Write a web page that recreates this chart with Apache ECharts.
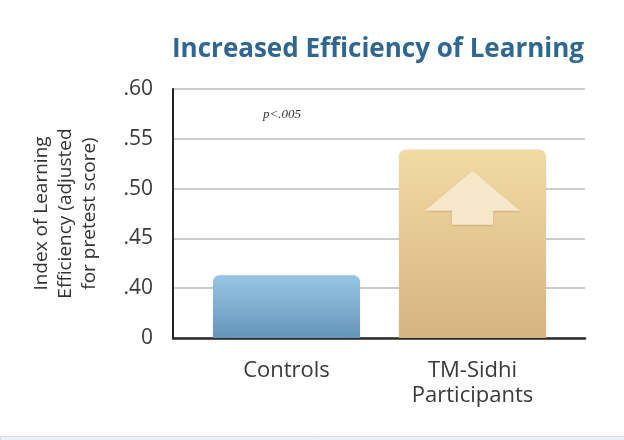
<!DOCTYPE html>
<html>
<head>
<meta charset="utf-8">
<script src="https://cdn.jsdelivr.net/npm/echarts@6/dist/echarts.min.js"></script>
<style>
html,body{margin:0;padding:0;background:#fff;}
#chart{width:624px;height:440px;}
</style>
</head>
<body>
<div id="chart"></div>
<script>
// ---- data ----
var titleText = 'Increased Efficiency of Learning';
var categories = ['Controls', 'TM-Sidhi\nParticipants'];
var values = [0.413, 0.539];
var yMin = 0.35, yMax = 0.60, yStep = 0.05;   // broken axis: bottom tick shown as "0"
var yTickLabels = ['0', '.40', '.45', '.50', '.55', '.60'];
var yAxisName = 'Index of Learning\nEfficiency (adjusted\nfor pretest score)';
var noteText = 'p<.005';

var chart = echarts.init(document.getElementById('chart'));

var barColors = [
  new echarts.graphic.LinearGradient(0, 0, 0, 1, [
    {offset: 0, color: '#97c5e3'}, {offset: 1, color: '#6695bb'}]),
  new echarts.graphic.LinearGradient(0, 0, 0, 1, [
    {offset: 0, color: '#f2daa3'}, {offset: 1, color: '#d6b482'}])
];

var arrowPath = 'path://M47.5,0 L95,40 L68,40 L68,54 L27,54 L27,40 L0,40 Z';

chart.setOption({
  animation: false,
  backgroundColor: '#ffffff',
  title: {
    text: titleText,
    left: 373, top: 32, textAlign: 'center',
    textStyle: {fontFamily: 'Open Sans', fontWeight: 'bold', fontSize: 26, color: '#2f6793'}
  },
  grid: [
    {left: 173, right: 39, top: 89, bottom: 102},
    {left: 193.5, right: 58.5, top: 89, bottom: 102}
  ],
  xAxis: [
    {type: 'category', gridIndex: 0, data: categories,
     axisLine: {show: true, lineStyle: {color: '#2b2b2b', width: 2.5}},
     axisTick: {show: false}, axisLabel: {show: false}, splitLine: {show: false}},
    {type: 'category', gridIndex: 1, data: categories,
     axisLine: {show: false}, axisTick: {show: false},
     axisLabel: {show: true, margin: 20, fontFamily: 'Open Sans', fontSize: 22, lineHeight: 25, color: '#3a3a3a'}}
  ],
  yAxis: [
    {type: 'value', gridIndex: 0, min: yMin, max: yMax, interval: yStep,
     name: yAxisName, nameLocation: 'middle', nameRotate: 90, nameGap: 71,
     nameTextStyle: {fontFamily: 'Open Sans', fontSize: 19, lineHeight: 24, color: '#333'},
     axisLine: {show: true, lineStyle: {color: '#222', width: 2}},
     axisTick: {show: false},
     axisLabel: {margin: 20, fontFamily: 'Open Sans', fontSize: 21, color: '#3a3a3a',
       formatter: function (v) { return yTickLabels[Math.round((v - yMin) / yStep)]; }},
     splitLine: {show: true, lineStyle: {color: '#bdbdbd', width: 1.5}}},
    {type: 'value', gridIndex: 1, min: yMin, max: yMax, interval: yStep, show: false,
     splitLine: {show: false}}
  ],
  series: [{
    type: 'bar', xAxisIndex: 1, yAxisIndex: 1,
    barWidth: 147,
    data: values.map(function (v, i) {
      return {value: v, itemStyle: {color: barColors[i]}};
    }),
    itemStyle: {borderRadius: [7, 7, 0, 0], shadowBlur: 2, shadowColor: 'rgba(0,0,0,0.12)'},
    markPoint: {
      symbol: arrowPath, symbolSize: [95, 54], symbolOffset: [0, 48],
      silent: true,
      label: {show: false},
      itemStyle: {color: '#f6e8cb', shadowBlur: 2, shadowColor: 'rgba(150,110,50,0.35)', shadowOffsetY: 1},
      data: [{type: 'max'}]
    }
  }],
  graphic: [
    {type: 'text', left: 263, top: 108,
     style: {text: noteText, font: 'italic 13px "Liberation Serif"', fill: '#333'}},
    {type: 'rect', left: 0, top: 436, shape: {width: 624, height: 4},
     style: {fill: '#eef2f6', stroke: '#d6dde3', lineWidth: 1}}
  ]
});
</script>
</body>
</html>
